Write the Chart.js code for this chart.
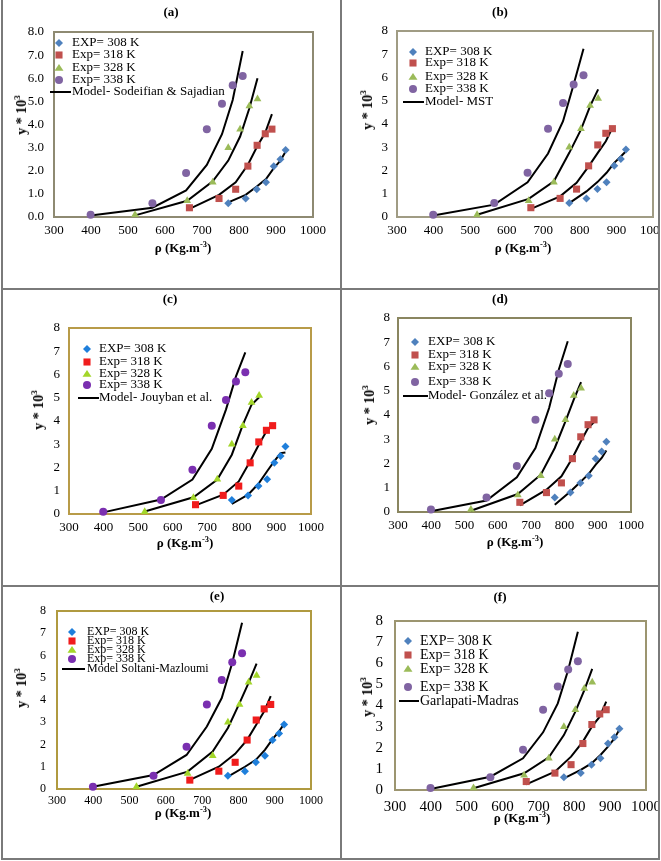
<!DOCTYPE html>
<html lang="en">
<head>
    <meta charset="UTF-8">
    <title>Solubility vs density - six models</title>
    <script src="https://cdn.jsdelivr.net/npm/chart.js"></script>
    <style>
        body { margin: 0; background: #fff; width: 661px; height: 861px; position: relative; overflow: hidden; }
        .rule { position: absolute; background: #7a7a7a; }
        canvas { position: absolute; }
        .txt { position: absolute; font-family: "Liberation Serif", "Times New Roman", serif; font-weight: bold; font-size: 13px; color: #000; white-space: nowrap; transform: translate(-50%, -50%); }
        .ytitle { font-size: 14px; transform: translate(-50%, -50%) rotate(-90deg); }
        sup { font-size: 0.65em; vertical-align: super; line-height: 0; }
    </style>
</head>
<body>
    <script>
        // experimental data (same in every panel)
        const rho308 = [771, 818, 848, 873, 894, 912, 926];
        const exp308 = [0.6, 0.8, 1.2, 1.5, 2.2, 2.5, 2.9];
        const rho318 = [666, 746, 791, 824, 849, 871, 889];
        const exp318 = [0.4, 0.8, 1.2, 2.2, 3.1, 3.6, 3.8];
        const rho328 = [519, 660, 729, 771, 803, 828, 850];
        const exp328 = [0.1, 0.7, 1.5, 3.0, 3.8, 4.8, 5.1];
        const rho338 = [399, 566, 657, 713, 754, 783, 810];
        const exp338 = [0.1, 0.6, 1.9, 3.8, 4.9, 5.7, 6.1];

        // model curves, one array per temperature and panel
        const a308 = [0.63, 0.96, 1.32, 1.64, 2.11, 2.44, 2.83];
        const a318 = [0.35, 0.96, 1.5, 2.26, 3.05, 3.65, 4.45];
        const a328 = [0.07, 0.7, 1.54, 2.44, 3.48, 4.7, 6.0];
        const a338 = [0.06, 0.4, 1.15, 2.25, 3.58, 5.06, 7.18];

        const b308 = [0.6, 1.1, 1.5, 1.9, 2.33, 2.6, 2.83];
        const b318 = [0.35, 0.89, 1.47, 2.18, 2.76, 3.26, 3.84];
        const b328 = [0.1, 0.78, 1.54, 2.76, 3.76, 4.77, 5.49];
        const b338 = [0.06, 0.53, 1.49, 2.73, 4.12, 5.7, 7.24];

        const c308 = [0.43, 0.83, 1.3, 1.84, 2.27, 2.62, 2.65];
        const c318 = [0.37, 0.83, 1.4, 2.27, 2.98, 3.56, 3.84];
        const c328 = [0.11, 0.72, 1.48, 2.55, 3.84, 4.7, 5.02];
        const c338 = [0.07, 0.62, 1.48, 2.8, 4.49, 5.92, 6.95];

        const d308 = [0.3, 0.85, 1.24, 1.57, 1.95, 2.23, 2.54];
        const d318 = [0.27, 0.92, 1.47, 2.23, 2.91, 3.46, 3.71];
        const d328 = [0.05, 0.74, 1.54, 2.64, 3.74, 4.63, 5.36];
        const d338 = [0.03, 0.47, 1.43, 2.64, 4.29, 5.87, 7.04];

        const e308 = [0.56, 1.0, 1.31, 1.76, 2.24, 2.59, 2.93];
        const e318 = [0.41, 1.0, 1.58, 2.21, 2.89, 3.49, 4.17];
        const e328 = [0.1, 0.78, 1.68, 2.74, 3.86, 4.77, 5.64];
        const e338 = [0.1, 0.63, 1.53, 2.81, 4.09, 5.67, 7.47];

        const f308 = [0.55, 0.95, 1.26, 1.66, 2.05, 2.44, 2.87];
        const f318 = [0.27, 0.87, 1.58, 2.29, 3.0, 3.47, 4.18];
        const f328 = [0.08, 0.79, 1.55, 2.6, 3.71, 4.73, 5.73];
        const f338 = [0.05, 0.63, 1.5, 2.73, 4.1, 5.68, 7.49];

        const xTicks = [300, 400, 500, 600, 700, 800, 900, 1000];
        const expLabels = ['EXP= 308 K', 'Exp= 318 K', 'Exp= 328 K', 'Exp= 338 K'];

        const officeColors = ['#4F81BD', '#C0504D', '#9BBB59', '#8064A2'];
        const brightColors = ['#1F7FDB', '#F01C1C', '#A3D62A', '#7A2FB0'];

        // page layout: cell box, plot box, text anchors
        const panels = [
            { tag: '(a)', model: 'Model- Sodeifian & Sajadian', curves: [a308, a318, a328, a338], colors: officeColors,
              cell: [3, 0, 337, 288], plot: [54, 32, 313, 217], frame: '#8e8a72', dec: true, tick: 13, xpad: 6, ypad: 10,
              letter: [171, 12], xt: [183, 248], yt: [22, 115],
              leg: { mark: 59, text: 72, line: [50, 71], rows: [43, 55, 68, 80, 92], size: 13 } },
            { tag: '(b)', model: 'Model- MST', curves: [b308, b318, b328, b338], colors: officeColors,
              cell: [342, 0, 316, 288], plot: [397, 31, 656, 217], frame: '#a09c84', dec: false, tick: 13, xpad: 6, ypad: 9,
              letter: [500, 12], xt: [523, 248], yt: [368, 110],
              leg: { mark: 413, text: 425, line: [403, 424], rows: [52, 63, 77, 89, 102], size: 13 } },
            { tag: '(c)', model: 'Model- Jouyban et al.', curves: [c308, c318, c328, c338], colors: brightColors,
              cell: [3, 290, 337, 295], plot: [69, 328, 311, 514], frame: '#b89b48', dec: false, tick: 13, xpad: 6, ypad: 9,
              letter: [170, 299], xt: [185, 543], yt: [39, 410],
              leg: { mark: 87, text: 99, line: [78, 99], rows: [349, 362, 374, 385, 398], size: 13 } },
            { tag: '(d)', model: 'Model- González et al.', curves: [d308, d318, d328, d338], colors: officeColors,
              cell: [342, 290, 316, 295], plot: [398, 318, 631, 512], frame: '#8a8660', dec: false, tick: 13, xpad: 6, ypad: 8,
              letter: [500, 299], xt: [515, 542], yt: [370, 405],
              leg: { mark: 415, text: 428, line: [403, 428], rows: [342, 355, 367, 382, 396], size: 13 } },
            { tag: '(e)', model: 'Model Soltani-Mazloumi', curves: [e308, e318, e328, e338], colors: brightColors,
              cell: [3, 587, 337, 271], plot: [57, 611, 311, 789], frame: '#b09a40', dec: false, tick: 12, xpad: 5, ypad: 11,
              letter: [217, 596], xt: [183, 813], yt: [22, 688],
              leg: { mark: 72, text: 87, line: [62, 85], rows: [632, 641, 650, 659, 669], size: 12 } },
            { tag: '(f)', model: 'Garlapati-Madras', curves: [f308, f318, f328, f338], colors: officeColors,
              cell: [342, 587, 316, 271], plot: [395, 621, 646, 790], frame: '#9c9570', dec: false, tick: 15, xpad: 8, ypad: 12,
              letter: [500, 597], xt: [522, 818], yt: [368, 697],
              leg: { mark: 408, text: 420, line: [399, 419], rows: [641, 655, 669, 687, 701], size: 14 } }
        ];

        const rhos = [rho308, rho318, rho328, rho338];
        const exps = [exp308, exp318, exp328, exp338];
        const styles = ['rectRot', 'rect', 'triangle', 'circle'];
        const radii = [4, 5, 4.5, 4];

        Chart.defaults.font.family = '"Liberation Serif", "Times New Roman", serif';
        Chart.defaults.color = '#000';

        // table rules
        [[1, 0, 2, 860], [340, 0, 2, 860], [658, 0, 2, 860],
         [1, 288, 659, 2], [1, 585, 659, 2], [1, 858, 659, 2]].forEach(r => {
            const d = document.createElement('div');
            d.className = 'rule';
            d.style.cssText = `left:${r[0]}px;top:${r[1]}px;width:${r[2]}px;height:${r[3]}px`;
            document.body.appendChild(d);
        });

        function addText(cls, html, pos) {
            const d = document.createElement('div');
            d.className = cls;
            d.innerHTML = html;
            d.style.left = pos[0] + 'px';
            d.style.top = pos[1] + 'px';
            document.body.appendChild(d);
        }

        function drawMark(ctx, style, r, x, y) {
            ctx.beginPath();
            if (style === 'circle') {
                ctx.arc(x, y, r, 0, Math.PI * 2);
            } else if (style === 'rect') {
                const s = r * Math.SQRT1_2;
                ctx.rect(x - s, y - s, 2 * s, 2 * s);
            } else if (style === 'rectRot') {
                ctx.moveTo(x, y - r); ctx.lineTo(x + r, y); ctx.lineTo(x, y + r); ctx.lineTo(x - r, y);
                ctx.closePath();
            } else {
                const h = r * 1.5, w = r * Math.sqrt(3) / 2 * 1.15;
                ctx.moveTo(x, y - h * 0.6); ctx.lineTo(x + w, y + h * 0.4); ctx.lineTo(x - w, y + h * 0.4);
                ctx.closePath();
            }
            ctx.fill();
        }

        const plotFrame = {
            id: 'plotFrame',
            beforeDraw(chart, args, o) {
                const a = chart.chartArea, ctx = chart.ctx;
                ctx.save();
                ctx.strokeStyle = o.color;
                ctx.lineWidth = 2;
                ctx.strokeRect(a.left, a.top, a.right - a.left, a.bottom - a.top);
                ctx.restore();
            }
        };

        const panelLegend = {
            id: 'panelLegend',
            afterDraw(chart, args, o) {
                const ctx = chart.ctx;
                ctx.save();
                ctx.font = o.size + 'px "Liberation Serif"';
                ctx.textBaseline = 'middle';
                ctx.textAlign = 'left';
                for (let i = 0; i < 5; i++) {
                    const ds = chart.data.datasets[i];
                    const y = o.rows[i] - o.oy;
                    if (ds.showLine) {
                        ctx.strokeStyle = '#000';
                        ctx.lineWidth = 2;
                        ctx.beginPath();
                        ctx.moveTo(o.line[0] - o.ox, y);
                        ctx.lineTo(o.line[1] - o.ox, y);
                        ctx.stroke();
                    } else {
                        ctx.fillStyle = ds.pointBackgroundColor;
                        drawMark(ctx, ds.pointStyle, ds.pointRadius, o.mark - o.ox, y);
                    }
                    ctx.fillStyle = '#000';
                    ctx.fillText(ds.label, o.text - o.ox, y);
                }
                ctx.restore();
            }
        };

        panels.forEach(p => {
            const [cx, cy, cw, ch] = p.cell;
            const canvas = document.createElement('canvas');
            canvas.width = cw;
            canvas.height = ch;
            canvas.style.left = cx + 'px';
            canvas.style.top = cy + 'px';
            document.body.appendChild(canvas);

            const datasets = [];
            for (let k = 0; k < 4; k++) {
                datasets.push({
                    label: expLabels[k],
                    data: rhos[k].map((x, i) => ({ x: x, y: exps[k][i] })),
                    pointStyle: styles[k],
                    pointRadius: radii[k],
                    pointBackgroundColor: p.colors[k],
                    pointBorderColor: p.colors[k],
                    pointBorderWidth: 0,
                    showLine: false,
                    clip: false
                });
            }
            for (let k = 0; k < 4; k++) {
                datasets.push({
                    label: p.model,
                    data: rhos[k].map((x, i) => ({ x: x, y: p.curves[k][i] })),
                    showLine: true,
                    borderColor: '#000',
                    borderWidth: 2,
                    pointRadius: 0,
                    tension: 0,
                    fill: false,
                    clip: false
                });
            }

            const [L, T, R, B] = p.plot;
            const yAxisW = L - cx;
            const xAxisH = cy + ch - B;
            new Chart(canvas.getContext('2d'), {
                type: 'scatter',
                data: { datasets: datasets },
                options: {
                    responsive: false,
                    animation: false,
                    events: [],
                    layout: { padding: { left: 0, top: T - cy, right: cx + cw - R, bottom: 0 } },
                    plugins: {
                        legend: { display: false },
                        tooltip: { enabled: false },
                        plotFrame: { color: p.frame },
                        panelLegend: Object.assign({ ox: cx, oy: cy }, p.leg)
                    },
                    scales: {
                        x: {
                            type: 'linear', min: 300, max: 1000,
                            afterBuildTicks: s => { s.ticks = xTicks.map(v => ({ value: v })); },
                            ticks: { font: { size: p.tick }, color: '#000', padding: p.xpad, maxRotation: 0, autoSkip: false,
                                     callback: v => String(v) },
                            grid: { display: false, drawTicks: false },
                            border: { display: false },
                            afterFit: s => { s.height = xAxisH; s.paddingLeft = 0; s.paddingRight = 0; }
                        },
                        y: {
                            type: 'linear', min: 0, max: 8,
                            ticks: { stepSize: 1, font: { size: p.tick }, color: '#000', padding: p.ypad,
                                     callback: v => p.dec ? v.toFixed(1) : String(v) },
                            grid: { display: false, drawTicks: false },
                            border: { display: false },
                            afterFit: s => { s.width = yAxisW; s.paddingTop = 0; s.paddingBottom = 0; }
                        }
                    }
                },
                plugins: [plotFrame, panelLegend]
            });

            addText('txt', p.tag, p.letter);
            addText('txt', 'ρ (Kg.m<sup>-3</sup>)', p.xt);
            addText('txt ytitle', 'y * 10<sup>3</sup>', p.yt);
        });
    </script>
</body>
</html>
